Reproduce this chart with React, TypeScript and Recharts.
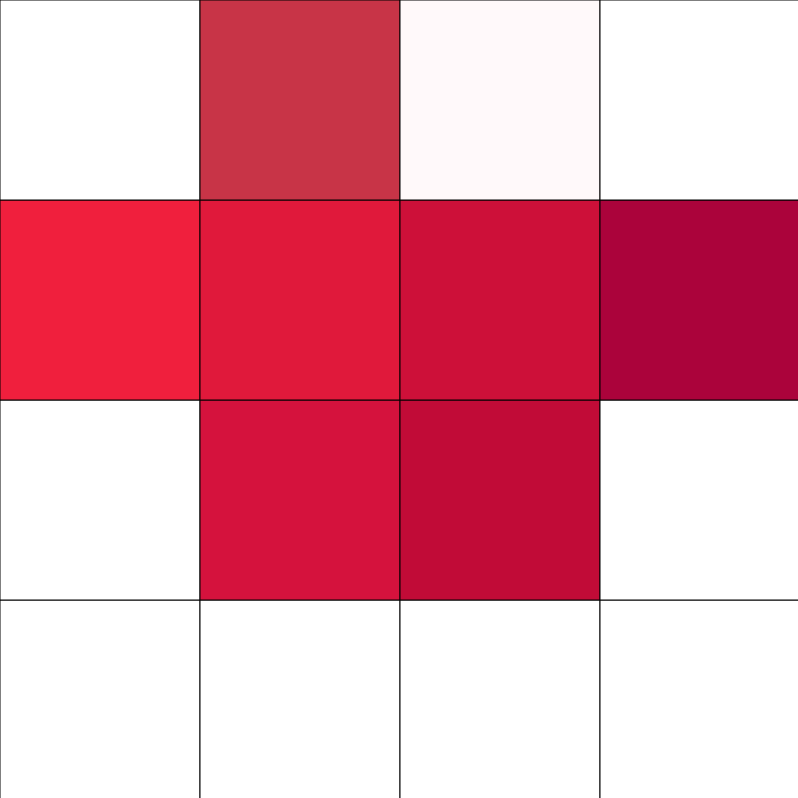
import { Bar, BarChart, Cell, XAxis, YAxis } from "recharts";

// columns left to right
const columns = ["c1", "c2", "c3", "c4"];
// rows top to bottom, each cell's colour
const row1 = ["#ffffff", "#c83447", "#fff9fa", "#ffffff"];
const row2 = ["#f01f3d", "#e0193b", "#cd1039", "#ab033b"];
const row3 = ["#ffffff", "#d5123d", "#c10b37", "#ffffff"];
const row4 = ["#ffffff", "#ffffff", "#ffffff", "#ffffff"];

const rows = [row1, row2, row3, row4];
// every cell is one unit tall
const data = columns.map((c) => ({ col: c, r1: 1, r2: 1, r3: 1, r4: 1 }));

// stacked bottom-up, so the last row goes first
const stackOrder = [
  { key: "r4", fills: row4 },
  { key: "r3", fills: row3 },
  { key: "r2", fills: row2 },
  { key: "r1", fills: row1 },
];

export default function App() {
  return (
    <div
      style={{
        position: "fixed",
        top: 0,
        left: 0,
        width: 798,
        height: 798,
        overflow: "hidden",
        background: "#fff",
      }}
    >
      <BarChart
        width={800}
        height={800}
        data={data}
        margin={{ top: 0, right: 0, bottom: 0, left: 0 }}
        barCategoryGap={0}
        barGap={0}
      >
        <XAxis dataKey="col" hide />
        <YAxis type="number" domain={[0, rows.length]} hide />
        {stackOrder.map((s) => (
          <Bar
            key={s.key}
            dataKey={s.key}
            stackId="grid"
            stroke="#000"
            strokeWidth={1}
            isAnimationActive={false}
          >
            {s.fills.map((f, i) => (
              <Cell key={i} fill={f} />
            ))}
          </Bar>
        ))}
      </BarChart>
    </div>
  );
}
